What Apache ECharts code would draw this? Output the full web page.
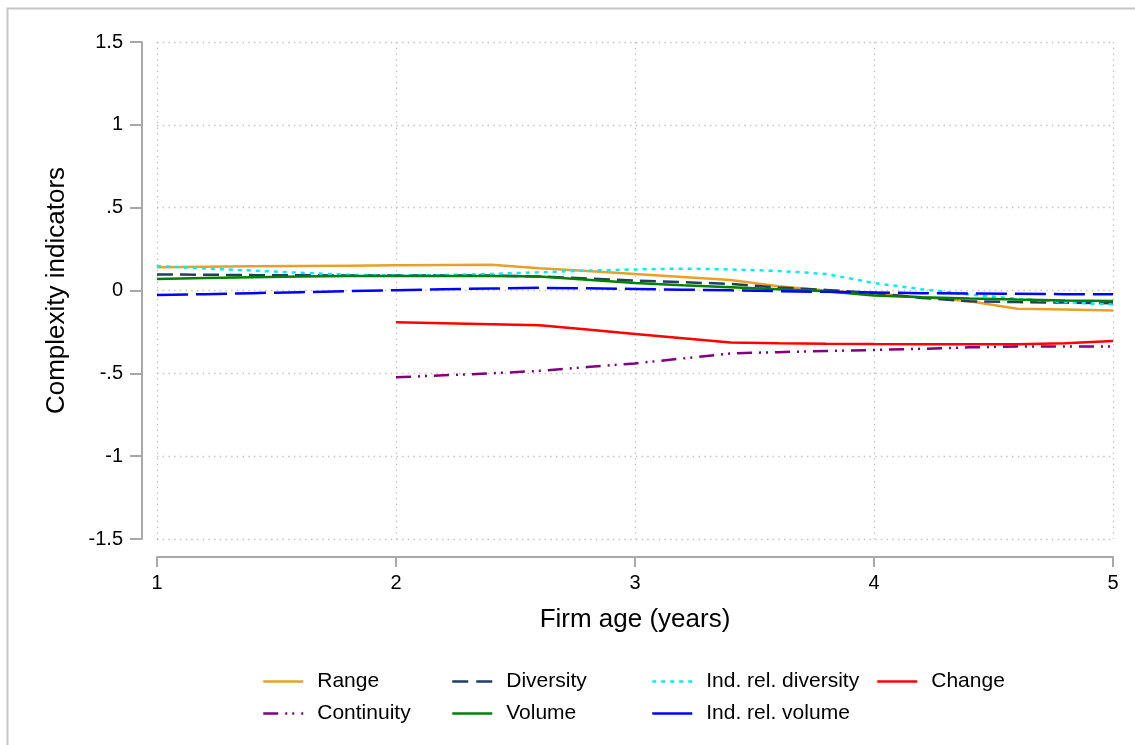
<!DOCTYPE html>
<html>
<head>
<meta charset="utf-8">
<script src="https://cdn.jsdelivr.net/npm/echarts@6/dist/echarts.min.js"></script>
<style>html,body{margin:0;padding:0;background:#fff}#c{width:1135px;height:745px}</style>
</head>
<body>
<div id="c"></div>
<script>
// ---- data ----
const xFull = [1, 1.2, 1.4, 1.6, 1.8, 2, 2.2, 2.4, 2.6, 2.8, 3, 3.2, 3.4, 3.6, 3.8, 4, 4.2, 4.4, 4.6, 4.8, 5];
const xLate = [2, 2.2, 2.4, 2.6, 2.8, 3, 3.2, 3.4, 3.6, 3.8, 4, 4.2, 4.4, 4.6, 4.8, 5];

const range      = [0.140, 0.143, 0.146, 0.148, 0.150, 0.152, 0.154, 0.156, 0.135, 0.117, 0.100, 0.082, 0.063, 0.025, 0.000, -0.020, -0.040, -0.065, -0.110, -0.115, -0.120];
const diversity  = [0.097, 0.095, 0.093, 0.092, 0.091, 0.090, 0.090, 0.090, 0.085, 0.072, 0.060, 0.050, 0.040, 0.018, 0.003, -0.015, -0.045, -0.065, -0.070, -0.073, -0.077];
const indRelDiv  = [0.148, 0.133, 0.120, 0.107, 0.095, 0.090, 0.093, 0.100, 0.110, 0.120, 0.127, 0.132, 0.127, 0.118, 0.100, 0.045, 0.008, -0.025, -0.050, -0.070, -0.085];
const change     = [-0.192, -0.198, -0.204, -0.210, -0.236, -0.262, -0.288, -0.314, -0.318, -0.321, -0.323, -0.324, -0.325, -0.325, -0.318, -0.305];
const continuity = [-0.524, -0.512, -0.500, -0.485, -0.462, -0.440, -0.410, -0.380, -0.372, -0.365, -0.359, -0.352, -0.343, -0.338, -0.338, -0.338];
const volume     = [0.070, 0.075, 0.080, 0.085, 0.087, 0.088, 0.088, 0.088, 0.085, 0.065, 0.045, 0.032, 0.020, 0.008, -0.005, -0.030, -0.040, -0.048, -0.055, -0.060, -0.063];
const indRelVol  = [-0.027, -0.022, -0.016, -0.010, -0.004, 0.002, 0.008, 0.012, 0.016, 0.013, 0.009, 0.005, 0.001, -0.004, -0.008, -0.012, -0.016, -0.018, -0.020, -0.022, -0.023];

const seriesNames = ['Range', 'Diversity', 'Ind. rel. diversity', 'Change', 'Continuity', 'Volume', 'Ind. rel. volume'];
const yTickValues = [-1.5, -1, -0.5, 0, 0.5, 1, 1.5];
const yTickLabels = ['-1.5', '-1', '-.5', '0', '.5', '1', '1.5'];
const xTickLabels = ['1', '2', '3', '4', '5'];

// ---- chart ----
const FONT = '"Liberation Sans", Arial, sans-serif';
const pairs = (xs, ys) => xs.map((x, i) => [x, ys[i]]);

const styles = [
  { color: '#e8a02a', type: 'solid', legendType: 'solid' },
  { color: '#1f3f66', type: [16, 7], legendType: [16, 8] },
  { color: '#00f0f0', type: [4, 5], legendType: [4, 5] },
  { color: '#ff0000', type: 'solid', legendType: 'solid' },
  { color: '#800080', type: [15, 7, 2, 5, 2, 7], legendType: [15, 7, 2, 5, 2, 7] },
  { color: '#008000', type: 'solid', legendType: 'solid' },
  { color: '#0000ff', type: [31, 8], legendType: 'solid' }
];
const datasets = [
  pairs(xFull, range), pairs(xFull, diversity), pairs(xFull, indRelDiv),
  pairs(xLate, change), pairs(xLate, continuity), pairs(xFull, volume), pairs(xFull, indRelVol)
];

const legendPos = [
  { left: 262, top: 671 }, { left: 451, top: 671 }, { left: 651, top: 671 }, { left: 876, top: 671 },
  { left: 262, top: 703 }, { left: 451, top: 703 }, { left: 651, top: 703 }
];

const chart = echarts.init(document.getElementById('c'), null, { renderer: 'canvas' });
chart.setOption({
  animation: false,
  backgroundColor: '#fff',
  graphic: [{
    type: 'rect', left: 5, top: 6, shape: { width: 1300, height: 900 },
    style: { fill: 'none', stroke: '#c6c6c6', lineWidth: 2 }, silent: true
  }],
  grid: { left: 157, right: 22, top: 42, bottom: 206 },
  xAxis: {
    type: 'value', min: 1, max: 5, interval: 1, offset: 18,
    name: 'Firm age (years)', nameLocation: 'middle', nameGap: 50,
    nameTextStyle: { fontSize: 26, fontFamily: FONT, color: '#000' },
    axisLine: { onZero: false, lineStyle: { color: '#a8a8a8', width: 2 } },
    axisTick: { length: 10, lineStyle: { color: '#a8a8a8', width: 2 } },
    axisLabel: { fontSize: 20, fontFamily: FONT, color: '#000', margin: 16,
      formatter: v => xTickLabels[Math.round(v) - 1] },
    splitLine: { show: true, lineStyle: { color: '#c4c4c4', width: 1.3, type: [1.5, 4.2] } }
  },
  yAxis: {
    type: 'value', min: -1.5, max: 1.5, interval: 0.5, offset: 15,
    name: 'Complexity indicators', nameLocation: 'middle', nameGap: 72,
    nameTextStyle: { fontSize: 26, fontFamily: FONT, color: '#000' },
    axisLine: { show: true, onZero: false, lineStyle: { color: '#a8a8a8', width: 2 } },
    axisTick: { show: true, length: 12, lineStyle: { color: '#a8a8a8', width: 2 } },
    axisLabel: { fontSize: 20, fontFamily: FONT, color: '#000', margin: 19,
      formatter: v => { const i = yTickValues.findIndex(t => Math.abs(t - v) < 1e-9); return i >= 0 ? yTickLabels[i] : ''; } },
    splitLine: { show: true, lineStyle: { color: '#c4c4c4', width: 1.3, type: [1.5, 4.2] } }
  },
  legend: seriesNames.map((n, i) => ({
    data: [n], left: legendPos[i].left, top: legendPos[i].top, padding: 0,
    itemWidth: 40, itemHeight: 14, itemGap: 0,
    itemStyle: { opacity: 0, borderWidth: 0 },
    lineStyle: { width: 2.5, type: styles[i].legendType },
    textStyle: { fontSize: 21, fontFamily: FONT, color: '#000', padding: [0, 0, 0, 9] }
  })),
  series: seriesNames.map((n, i) => ({
    name: n, type: 'line', data: datasets[i], symbol: 'none', smooth: false,
    lineStyle: { color: styles[i].color, width: 2.5, type: styles[i].type },
    itemStyle: { color: styles[i].color },
    z: 2 + i
  }))
});
</script>
</body>
</html>
